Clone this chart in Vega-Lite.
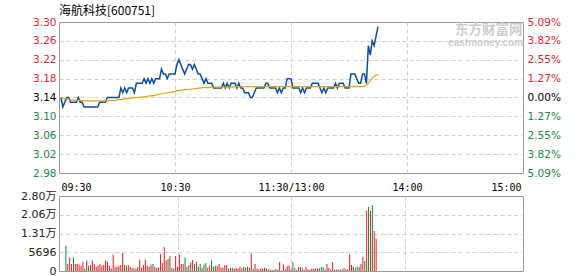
{
  "$schema": "https://vega.github.io/schema/vega-lite/v6.json",
  "background": "white",
  "padding": {"left": 20, "top": 4, "right": 0, "bottom": 0},
  "bounds": "flush",
  "spacing": 23,
  "config": {
    "view": {"stroke": "#9a9a9a", "strokeWidth": 1},
    "axis": {
      "domain": false,
      "ticks": false,
      "title": null,
      "gridColor": "#cfcfcf",
      "gridDash": [4, 3],
      "gridWidth": 1,
      "labelFont": "DejaVu Sans",
      "labelFontSize": 10.5
    }
  },
  "datasets": {
    "minute": [
      {"m":1,"p":3.14,"a":3.140,"v":9450,"c":"g"},
      {"m":2,"p":3.12,"a":3.138,"v":2600,"c":"r"},
      {"m":3,"p":3.13,"a":3.137,"v":5000,"c":"r"},
      {"m":4,"p":3.14,"a":3.137,"v":2600,"c":"r"},
      {"m":5,"p":3.14,"a":3.136,"v":5000,"c":"g"},
      {"m":6,"p":3.13,"a":3.135,"v":2600,"c":"r"},
      {"m":7,"p":3.13,"a":3.135,"v":2600,"c":"r"},
      {"m":8,"p":3.13,"a":3.134,"v":2400,"c":"r"},
      {"m":9,"p":3.13,"a":3.134,"v":2000,"c":"r"},
      {"m":10,"p":3.14,"a":3.134,"v":3500,"c":"r"},
      {"m":11,"p":3.13,"a":3.134,"v":900,"c":"g"},
      {"m":12,"p":3.13,"a":3.134,"v":3900,"c":"r"},
      {"m":13,"p":3.12,"a":3.133,"v":2000,"c":"g"},
      {"m":14,"p":3.12,"a":3.133,"v":2200,"c":"r"},
      {"m":15,"p":3.12,"a":3.133,"v":3900,"c":"r"},
      {"m":16,"p":3.12,"a":3.133,"v":2600,"c":"r"},
      {"m":17,"p":3.12,"a":3.133,"v":1600,"c":"r"},
      {"m":18,"p":3.12,"a":3.133,"v":2000,"c":"r"},
      {"m":19,"p":3.12,"a":3.133,"v":2600,"c":"r"},
      {"m":20,"p":3.12,"a":3.133,"v":2000,"c":"r"},
      {"m":21,"p":3.13,"a":3.133,"v":2200,"c":"r"},
      {"m":22,"p":3.13,"a":3.133,"v":3900,"c":"r"},
      {"m":23,"p":3.13,"a":3.133,"v":3500,"c":"r"},
      {"m":24,"p":3.13,"a":3.133,"v":2000,"c":"r"},
      {"m":25,"p":3.14,"a":3.133,"v":900,"c":"r"},
      {"m":26,"p":3.14,"a":3.134,"v":6100,"c":"r"},
      {"m":27,"p":3.14,"a":3.134,"v":1600,"c":"r"},
      {"m":28,"p":3.14,"a":3.134,"v":1600,"c":"r"},
      {"m":29,"p":3.14,"a":3.134,"v":2000,"c":"r"},
      {"m":30,"p":3.14,"a":3.135,"v":2200,"c":"r"},
      {"m":31,"p":3.14,"a":3.135,"v":6700,"c":"r"},
      {"m":32,"p":3.16,"a":3.136,"v":2200,"c":"r"},
      {"m":33,"p":3.15,"a":3.136,"v":2000,"c":"g"},
      {"m":34,"p":3.16,"a":3.137,"v":2200,"c":"r"},
      {"m":35,"p":3.15,"a":3.137,"v":1600,"c":"r"},
      {"m":36,"p":3.16,"a":3.138,"v":1250,"c":"r"},
      {"m":37,"p":3.16,"a":3.138,"v":1000,"c":"r"},
      {"m":38,"p":3.16,"a":3.139,"v":900,"c":"g"},
      {"m":39,"p":3.15,"a":3.139,"v":1500,"c":"r"},
      {"m":40,"p":3.17,"a":3.140,"v":4200,"c":"r"},
      {"m":41,"p":3.17,"a":3.140,"v":1250,"c":"r"},
      {"m":42,"p":3.17,"a":3.141,"v":2200,"c":"r"},
      {"m":43,"p":3.17,"a":3.141,"v":4100,"c":"r"},
      {"m":44,"p":3.18,"a":3.142,"v":2000,"c":"r"},
      {"m":45,"p":3.17,"a":3.142,"v":1600,"c":"r"},
      {"m":46,"p":3.18,"a":3.143,"v":2400,"c":"r"},
      {"m":47,"p":3.17,"a":3.143,"v":2600,"c":"g"},
      {"m":48,"p":3.18,"a":3.144,"v":1600,"c":"r"},
      {"m":49,"p":3.17,"a":3.144,"v":1250,"c":"r"},
      {"m":50,"p":3.18,"a":3.145,"v":1250,"c":"r"},
      {"m":51,"p":3.18,"a":3.146,"v":6300,"c":"r"},
      {"m":52,"p":3.18,"a":3.147,"v":3000,"c":"r"},
      {"m":53,"p":3.20,"a":3.148,"v":9000,"c":"r"},
      {"m":54,"p":3.19,"a":3.149,"v":3900,"c":"r"},
      {"m":55,"p":3.19,"a":3.149,"v":4600,"c":"g"},
      {"m":56,"p":3.18,"a":3.150,"v":5600,"c":"r"},
      {"m":57,"p":3.19,"a":3.151,"v":1250,"c":"g"},
      {"m":58,"p":3.19,"a":3.151,"v":900,"c":"r"},
      {"m":59,"p":3.19,"a":3.152,"v":5600,"c":"r"},
      {"m":60,"p":3.19,"a":3.153,"v":1600,"c":"r"},
      {"m":61,"p":3.21,"a":3.154,"v":6100,"c":"r"},
      {"m":62,"p":3.22,"a":3.155,"v":2600,"c":"r"},
      {"m":63,"p":3.21,"a":3.155,"v":2600,"c":"r"},
      {"m":64,"p":3.20,"a":3.156,"v":5000,"c":"g"},
      {"m":65,"p":3.19,"a":3.156,"v":1600,"c":"r"},
      {"m":66,"p":3.20,"a":3.157,"v":2200,"c":"g"},
      {"m":67,"p":3.21,"a":3.157,"v":3200,"c":"r"},
      {"m":68,"p":3.21,"a":3.158,"v":4200,"c":"r"},
      {"m":69,"p":3.20,"a":3.158,"v":2600,"c":"g"},
      {"m":70,"p":3.21,"a":3.159,"v":3500,"c":"r"},
      {"m":71,"p":3.20,"a":3.159,"v":1600,"c":"g"},
      {"m":72,"p":3.19,"a":3.160,"v":2600,"c":"g"},
      {"m":73,"p":3.19,"a":3.160,"v":1250,"c":"r"},
      {"m":74,"p":3.18,"a":3.161,"v":2400,"c":"g"},
      {"m":75,"p":3.17,"a":3.161,"v":3000,"c":"g"},
      {"m":76,"p":3.18,"a":3.161,"v":1250,"c":"r"},
      {"m":77,"p":3.17,"a":3.161,"v":2000,"c":"r"},
      {"m":78,"p":3.17,"a":3.162,"v":3900,"c":"g"},
      {"m":79,"p":3.17,"a":3.162,"v":1600,"c":"r"},
      {"m":80,"p":3.16,"a":3.162,"v":2000,"c":"g"},
      {"m":81,"p":3.16,"a":3.162,"v":2000,"c":"r"},
      {"m":82,"p":3.16,"a":3.162,"v":2600,"c":"r"},
      {"m":83,"p":3.16,"a":3.162,"v":1250,"c":"r"},
      {"m":84,"p":3.16,"a":3.162,"v":1250,"c":"r"},
      {"m":85,"p":3.17,"a":3.162,"v":2200,"c":"r"},
      {"m":86,"p":3.16,"a":3.162,"v":2200,"c":"r"},
      {"m":87,"p":3.17,"a":3.162,"v":900,"c":"g"},
      {"m":88,"p":3.16,"a":3.162,"v":1250,"c":"r"},
      {"m":89,"p":3.17,"a":3.162,"v":1250,"c":"g"},
      {"m":90,"p":3.17,"a":3.162,"v":900,"c":"r"},
      {"m":91,"p":3.17,"a":3.163,"v":1250,"c":"r"},
      {"m":92,"p":3.16,"a":3.163,"v":900,"c":"r"},
      {"m":93,"p":3.17,"a":3.163,"v":1600,"c":"r"},
      {"m":94,"p":3.16,"a":3.163,"v":1000,"c":"g"},
      {"m":95,"p":3.16,"a":3.163,"v":1600,"c":"r"},
      {"m":96,"p":3.15,"a":3.163,"v":1250,"c":"r"},
      {"m":97,"p":3.15,"a":3.163,"v":1600,"c":"g"},
      {"m":98,"p":3.15,"a":3.163,"v":1250,"c":"r"},
      {"m":99,"p":3.14,"a":3.163,"v":6500,"c":"r"},
      {"m":100,"p":3.14,"a":3.163,"v":900,"c":"g"},
      {"m":101,"p":3.15,"a":3.163,"v":2600,"c":"r"},
      {"m":102,"p":3.16,"a":3.163,"v":900,"c":"r"},
      {"m":103,"p":3.16,"a":3.163,"v":600,"c":"r"},
      {"m":104,"p":3.16,"a":3.163,"v":900,"c":"r"},
      {"m":105,"p":3.16,"a":3.163,"v":900,"c":"r"},
      {"m":106,"p":3.16,"a":3.163,"v":1250,"c":"r"},
      {"m":107,"p":3.17,"a":3.163,"v":900,"c":"r"},
      {"m":108,"p":3.17,"a":3.163,"v":600,"c":"r"},
      {"m":109,"p":3.16,"a":3.163,"v":400,"c":"r"},
      {"m":110,"p":3.16,"a":3.163,"v":400,"c":"r"},
      {"m":111,"p":3.16,"a":3.163,"v":400,"c":"r"},
      {"m":112,"p":3.16,"a":3.163,"v":750,"c":"g"},
      {"m":113,"p":3.15,"a":3.163,"v":500,"c":"r"},
      {"m":114,"p":3.16,"a":3.163,"v":3350,"c":"r"},
      {"m":115,"p":3.15,"a":3.163,"v":250,"c":"g"},
      {"m":116,"p":3.16,"a":3.163,"v":2400,"c":"r"},
      {"m":117,"p":3.16,"a":3.163,"v":750,"c":"r"},
      {"m":118,"p":3.18,"a":3.163,"v":1750,"c":"r"},
      {"m":119,"p":3.18,"a":3.163,"v":2100,"c":"r"},
      {"m":120,"p":3.18,"a":3.163,"v":600,"c":"r"},
      {"m":121,"p":3.16,"a":3.163,"v":3350,"c":"g"},
      {"m":122,"p":3.16,"a":3.163,"v":1000,"c":"r"},
      {"m":123,"p":3.16,"a":3.163,"v":400,"c":"r"},
      {"m":124,"p":3.16,"a":3.163,"v":1600,"c":"r"},
      {"m":125,"p":3.15,"a":3.163,"v":1500,"c":"g"},
      {"m":126,"p":3.16,"a":3.163,"v":1000,"c":"r"},
      {"m":127,"p":3.15,"a":3.163,"v":400,"c":"r"},
      {"m":128,"p":3.16,"a":3.163,"v":1500,"c":"r"},
      {"m":129,"p":3.16,"a":3.163,"v":600,"c":"r"},
      {"m":130,"p":3.16,"a":3.163,"v":400,"c":"r"},
      {"m":131,"p":3.17,"a":3.163,"v":900,"c":"r"},
      {"m":132,"p":3.17,"a":3.163,"v":750,"c":"r"},
      {"m":133,"p":3.17,"a":3.163,"v":1000,"c":"r"},
      {"m":134,"p":3.17,"a":3.163,"v":900,"c":"r"},
      {"m":135,"p":3.16,"a":3.163,"v":1000,"c":"g"},
      {"m":136,"p":3.15,"a":3.163,"v":1500,"c":"g"},
      {"m":137,"p":3.16,"a":3.163,"v":1500,"c":"g"},
      {"m":138,"p":3.15,"a":3.163,"v":600,"c":"r"},
      {"m":139,"p":3.16,"a":3.163,"v":2600,"c":"r"},
      {"m":140,"p":3.16,"a":3.163,"v":1100,"c":"r"},
      {"m":141,"p":3.16,"a":3.163,"v":600,"c":"r"},
      {"m":142,"p":3.16,"a":3.163,"v":3350,"c":"r"},
      {"m":143,"p":3.17,"a":3.163,"v":600,"c":"g"},
      {"m":144,"p":3.16,"a":3.163,"v":600,"c":"g"},
      {"m":145,"p":3.17,"a":3.163,"v":600,"c":"r"},
      {"m":146,"p":3.17,"a":3.163,"v":600,"c":"r"},
      {"m":147,"p":3.17,"a":3.163,"v":600,"c":"r"},
      {"m":148,"p":3.16,"a":3.163,"v":1000,"c":"g"},
      {"m":149,"p":3.16,"a":3.163,"v":600,"c":"r"},
      {"m":150,"p":3.16,"a":3.163,"v":600,"c":"r"},
      {"m":151,"p":3.19,"a":3.163,"v":6300,"c":"r"},
      {"m":152,"p":3.19,"a":3.163,"v":2240,"c":"r"},
      {"m":153,"p":3.19,"a":3.163,"v":1600,"c":"r"},
      {"m":154,"p":3.18,"a":3.163,"v":1250,"c":"g"},
      {"m":155,"p":3.17,"a":3.163,"v":1600,"c":"g"},
      {"m":156,"p":3.17,"a":3.163,"v":1500,"c":"r"},
      {"m":157,"p":3.19,"a":3.163,"v":2600,"c":"r"},
      {"m":158,"p":3.19,"a":3.164,"v":5200,"c":"r"},
      {"m":159,"p":3.17,"a":3.167,"v":3700,"c":"g"},
      {"m":160,"p":3.25,"a":3.170,"v":22500,"c":"r"},
      {"m":161,"p":3.23,"a":3.176,"v":23900,"c":"g"},
      {"m":162,"p":3.26,"a":3.181,"v":22500,"c":"r"},
      {"m":163,"p":3.25,"a":3.185,"v":24600,"c":"g"},
      {"m":164,"p":3.27,"a":3.187,"v":14900,"c":"r"},
      {"m":165,"p":3.29,"a":3.189,"v":12000,"c":"r"}
    ]
  },
  "vconcat": [
    {
      "width": 464,
      "height": 151,
      "title": {
        "text": "海航科技[600751]",
        "anchor": "start",
        "frame": "group",
        "font": "Noto Sans CJK SC",
        "fontSize": 12,
        "fontWeight": "normal",
        "color": "#000000",
        "offset": -1
      },
      "data": {"name": "minute"},
      "layer": [
        {
          "data": {"values": [{"brand": "东方财富网"}]},
          "mark": {"type": "text", "align": "right", "baseline": "middle", "font": "Noto Sans CJK SC", "fontSize": 13.5, "fontWeight": "bold", "color": "#cdcdcd"},
          "encoding": {
            "x": {"datum": 239.8, "type": "quantitative", "scale": {"domain": [0, 240], "nice": false, "zero": false}},
            "y": {"datum": 3.2824, "type": "quantitative", "scale": {"domain": [2.98, 3.30], "nice": false, "zero": false}, "axis": null},
            "text": {"field": "brand"}
          }
        },
        {
          "data": {"values": [{"brand": "eastmoney.com"}]},
          "mark": {"type": "text", "align": "right", "baseline": "middle", "font": "Liberation Sans", "fontSize": 10, "fontWeight": "bold", "color": "#cdcdcd"},
          "encoding": {
            "x": {"datum": 240, "type": "quantitative"},
            "y": {"datum": 3.2555, "type": "quantitative", "scale": {"domain": [2.98, 3.30], "nice": false, "zero": false}, "axis": null},
            "text": {"field": "brand"}
          }
        },
        {
          "mark": {"type": "line", "color": "#0b4ea2", "strokeWidth": 1.5, "strokeJoin": "miter"},
          "encoding": {
            "x": {
              "field": "m",
              "type": "quantitative",
              "scale": {"domain": [0, 240], "nice": false, "zero": false},
              "axis": {
                "values": [0, 60, 120, 180, 240],
                "labelExpr": "['09:30','10:30','11:30/13:00','14:00','15:00'][round(datum.value / 60)]",
                "labelFlush": true,
                "labelFlushOffset": -2,
                "labelFont": "DejaVu Sans Mono",
                "labelFontSize": 10,
                "labelColor": "#000000",
                "labelPadding": 9,
                "grid": true,
                "gridOpacity": {"condition": {"test": "datum.value <= 0 || datum.value >= 240", "value": 0}, "value": 1}
              }
            },
            "y": {
              "field": "p",
              "type": "quantitative",
              "scale": {"domain": [2.98, 3.30], "nice": false, "zero": false},
              "axis": {
                "orient": "left",
                "values": [2.98, 3.02, 3.06, 3.10, 3.14, 3.18, 3.22, 3.26, 3.30],
                "format": ".2f",
                "labelPadding": 3,
                "labelColor": {
                  "condition": [
                    {"test": "datum.value > 3.145", "value": "#e3262b"},
                    {"test": "datum.value > 3.135", "value": "#000000"}
                  ],
                  "value": "#23864a"
                },
                "grid": true,
                "gridOpacity": {"condition": {"test": "datum.value < 2.985 || datum.value > 3.295", "value": 0}, "value": 1}
              }
            }
          }
        },
        {
          "mark": {"type": "line", "color": "#e2a21b", "strokeWidth": 1.2},
          "encoding": {
            "x": {"field": "m", "type": "quantitative"},
            "y": {
              "field": "a",
              "type": "quantitative",
              "scale": {"domain": [2.98, 3.30], "nice": false, "zero": false},
              "axis": {
                "orient": "right",
                "values": [2.98, 3.02, 3.06, 3.10, 3.14, 3.18, 3.22, 3.26, 3.30],
                "labelExpr": "['0.00%','1.27%','2.55%','3.82%','5.09%'][abs(round((datum.value - 3.14) / 0.04))]",
                "labelPadding": 4,
                "labelColor": {
                  "condition": [
                    {"test": "datum.value > 3.145", "value": "#e3262b"},
                    {"test": "datum.value > 3.135", "value": "#000000"}
                  ],
                  "value": "#23864a"
                },
                "grid": false
              }
            }
          }
        }
      ],
      "resolve": {"scale": {"y": "independent"}, "axis": {"y": "independent"}}
    },
    {
      "width": 464,
      "height": 75,
      "data": {"name": "minute"},
      "mark": {"type": "bar", "size": 1},
      "encoding": {
        "x": {
          "field": "m",
          "type": "quantitative",
          "scale": {"domain": [0, 240], "nice": false, "zero": false},
          "axis": {
            "values": [0, 60, 120, 180, 240],
            "labels": false,
            "grid": true,
            "gridOpacity": {"condition": {"test": "datum.value <= 0 || datum.value >= 240", "value": 0}, "value": 1}
          }
        },
        "y": {
          "field": "v",
          "type": "quantitative",
          "scale": {"domain": [0, 28000], "nice": false},
          "axis": {
            "values": [0, 7000, 14000, 21000, 28000],
            "labelExpr": "['0','5696','1.31万','2.06万','2.80万'][round(datum.value / 7000)]",
            "labelFont": "DejaVu Sans, Noto Sans CJK SC",
            "labelFontSize": 11,
            "labelColor": "#222222",
            "labelPadding": 3,
            "grid": true,
            "gridOpacity": {"condition": {"test": "datum.value <= 0 || datum.value >= 28000", "value": 0}, "value": 1}
          }
        },
        "color": {
          "field": "c",
          "type": "nominal",
          "scale": {"domain": ["r", "g"], "range": ["#ee1a1a", "#0b8a3c"]},
          "legend": null
        }
      }
    }
  ]
}
